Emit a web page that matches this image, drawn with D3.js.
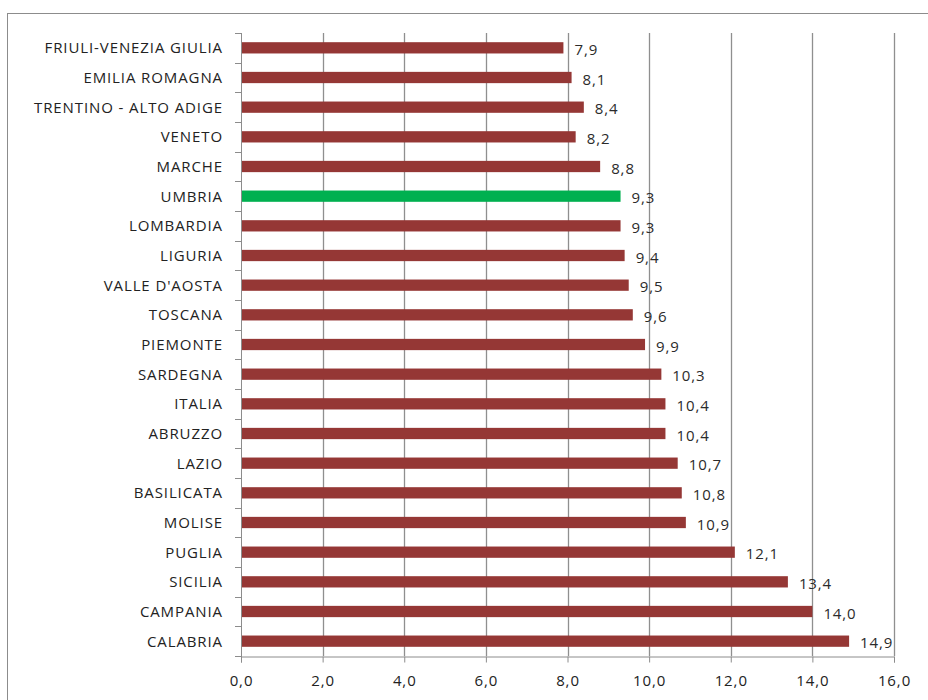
<!DOCTYPE html>
<html><head><meta charset="utf-8">
<script src="https://cdn.jsdelivr.net/npm/d3@7"></script>
<style>body{margin:0;background:#fff;} text{font-family:"Open Sans",sans-serif;letter-spacing:0.9px;}</style>
</head><body><svg id="c" width="928" height="700"></svg>
<script>
const regions = ["FRIULI-VENEZIA GIULIA","EMILIA ROMAGNA","TRENTINO - ALTO ADIGE","VENETO","MARCHE","UMBRIA","LOMBARDIA","LIGURIA","VALLE D'AOSTA","TOSCANA","PIEMONTE","SARDEGNA","ITALIA","ABRUZZO","LAZIO","BASILICATA","MOLISE","PUGLIA","SICILIA","CAMPANIA","CALABRIA"];
const values = [7.9,8.1,8.4,8.2,8.8,9.3,9.3,9.4,9.5,9.6,9.9,10.3,10.4,10.4,10.7,10.8,10.9,12.1,13.4,14.0,14.9];
const highlight = ["UMBRIA"];
const xTicks = [0,2,4,6,8,10,12,14,16];

const svg = d3.select("#c");
svg.append("rect").attr("x",7.5).attr("y",13.5).attr("width",940).attr("height",720)
  .attr("fill","#fff").attr("stroke","#8c8c8c");

const L=241, R=894, T=33, B=656;
const x = d3.scaleLinear().domain([0,16]).range([L,R]);
const y = d3.scaleBand().domain(regions).range([T,B]).paddingInner(0.62).paddingOuter(0.31);
const band = d3.scaleBand().domain(regions).range([T,B]);
const FS = 15;

// gridlines
svg.append("g").selectAll("line").data(xTicks.slice(1)).join("line")
  .attr("x1",d=>Math.round(x(d))+0.5).attr("x2",d=>Math.round(x(d))+0.5)
  .attr("y1",T).attr("y2",B).attr("stroke","#8f8f8f").attr("stroke-width",1.3);

// bars
svg.append("g").selectAll("rect").data(regions).join("rect")
  .attr("x",L).attr("y",d=>y(d)).attr("height",y.bandwidth())
  .attr("width",(d,i)=>x(values[i])-L)
  .attr("fill",d=>highlight.includes(d)?"#00B050":"#953735");

// value labels
const fmt = v => v.toFixed(1).replace(".",",");
svg.append("g").selectAll("text").data(regions).join("text")
  .attr("x",(d,i)=>x(values[i])+11).attr("y",d=>y(d)+y.bandwidth()/2+7)
  .attr("font-size",FS).attr("fill","#2b2b2b").text((d,i)=>fmt(values[i]));

// y axis
svg.append("line").attr("x1",L+0.5).attr("x2",L+0.5).attr("y1",T).attr("y2",B+6).attr("stroke","#8c8c8c");
const bounds = d3.range(regions.length+1).map(i=>T+i*band.step());
svg.append("g").selectAll("line").data(bounds).join("line")
  .attr("x1",L-6).attr("x2",L).attr("y1",d=>Math.round(d)+0.5).attr("y2",d=>Math.round(d)+0.5).attr("stroke","#8c8c8c");
svg.append("g").selectAll("text").data(regions).join("text")
  .attr("x",223).attr("y",d=>band(d)+band.bandwidth()/2+5.5).attr("text-anchor","end")
  .attr("font-size",FS).attr("fill","#222").text(d=>d);

// x axis
const xa = d3.axisBottom(x).tickValues(xTicks).tickSize(6).tickFormat(d=>d.toFixed(1).replace(".",","));
const gx = svg.append("g").attr("transform",`translate(0,${B+0.5})`).call(xa);
gx.select(".domain").attr("stroke","#8c8c8c");
gx.selectAll(".tick line").attr("stroke","#8c8c8c");
gx.selectAll(".tick text").attr("font-size",FS).attr("fill","#222").attr("y",19).attr("dy","0.71em")
  .style("font-family","'Open Sans',sans-serif");
</script></body></html>
